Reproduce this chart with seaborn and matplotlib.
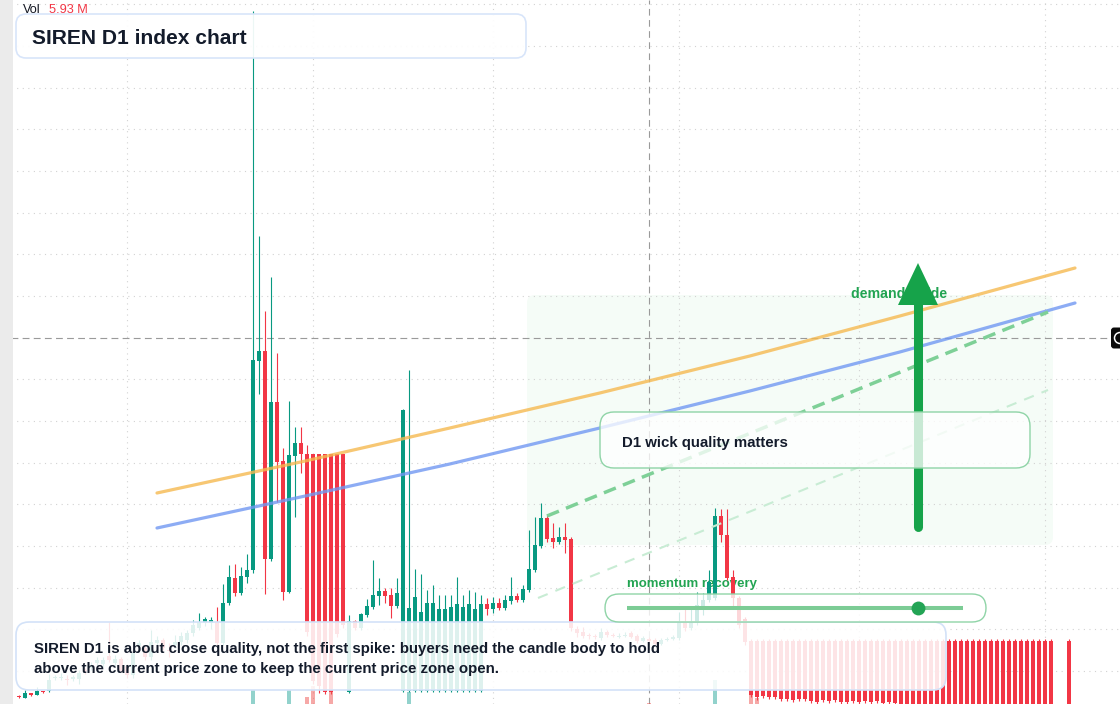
import numpy as np
import pandas as pd
import matplotlib
matplotlib.use("Agg")
import matplotlib.pyplot as plt
import seaborn as sns
from matplotlib.patches import FancyBboxPatch, Rectangle, Polygon, Circle
from matplotlib.colors import to_rgba

nan = float("nan")

# ---------------- data (daily candles, price in USD) ----------------
opens = [
    0.018, 0.016, 0.021, 0.019, 0.023, 0.023, 0.036, 0.036, 0.035, 0.035,
    0.035, 0.044, 0.046, 0.051, 0.050, 0.058, 0.051, 0.055, 0.048, 0.039,
    0.068, 0.066, 0.057, 0.071, 0.074, 0.064, 0.069, 0.072, 0.074, 0.081,
    0.086, 0.091, 0.091, 0.092, 0.071, 0.111, 0.136, 0.121, 0.137, 0.144,
    0.353, 0.363, 0.155, 0.312, 0.253, 0.122, 0.258, 0.271, 0.260, 0.260,
    0.260, 0.260, 0.260, 0.260, 0.260, 0.022, 0.093, 0.086, 0.099, 0.107,
    0.118, 0.123, 0.119, 0.108, 0.023, 0.023, 0.023, 0.023, 0.023, 0.023,
    0.023, 0.023, 0.023, 0.023, 0.023, 0.023, 0.023, 0.023, 0.110, 0.105,
    0.111, 0.106, 0.113, 0.118, 0.114, 0.124, 0.144, 0.168, 0.196, 0.176,
    0.172, 0.177, 0.175, 0.085, 0.082, 0.079, 0.078, 0.076, 0.082, 0.079,
    0.077, 0.078, 0.081, 0.078, 0.073, 0.075, 0.074, 0.070, 0.074, 0.075,
    0.076, 0.091, 0.086, 0.091, 0.107, 0.114, 0.116, 0.198, 0.179, 0.137,
    0.116, 0.095, 0.073, 0.073, 0.073, 0.073, 0.073, 0.073, 0.073, 0.073,
    0.073, 0.073, 0.073, 0.073, 0.073, 0.073, 0.073, 0.073, 0.073, 0.073,
    0.073, 0.073, 0.073, 0.073, 0.073, 0.073, 0.073, 0.073, 0.073, 0.073,
    0.073, 0.073, 0.073, 0.073, 0.073, 0.073, 0.073, 0.073, 0.073, 0.073,
    0.073, 0.073, 0.073, 0.073, 0.073, 0.073, 0.073, 0.073, 0.073, 0.073,
    0.073, 0.073, 0.073, nan, nan, 0.073,
]
highs = [
    0.019, 0.024, 0.021, 0.027, 0.023, 0.040, 0.039, 0.041, 0.039, 0.039,
    0.044, 0.046, 0.052, 0.057, 0.057, 0.092, 0.059, 0.057, 0.050, 0.066,
    0.074, 0.069, 0.084, 0.078, 0.076, 0.071, 0.079, 0.082, 0.084, 0.094,
    0.101, 0.097, 0.097, 0.107, 0.130, 0.149, 0.150, 0.147, 0.160, 0.703,
    0.478, 0.403, 0.437, 0.361, 0.266, 0.313, 0.287, 0.287, 0.269, 0.260,
    0.260, 0.260, 0.260, 0.260, 0.260, 0.099, 0.094, 0.101, 0.115, 0.154,
    0.136, 0.126, 0.126, 0.136, 0.305, 0.344, 0.145, 0.140, 0.124, 0.129,
    0.119, 0.119, 0.119, 0.137, 0.119, 0.124, 0.122, 0.119, 0.116, 0.117,
    0.116, 0.119, 0.137, 0.121, 0.129, 0.184, 0.197, 0.211, 0.199, 0.191,
    0.187, 0.191, 0.177, 0.088, 0.087, 0.081, 0.080, 0.086, 0.084, 0.081,
    0.081, 0.082, 0.083, 0.080, 0.078, 0.077, 0.076, 0.076, 0.077, 0.079,
    0.102, 0.105, 0.106, 0.122, 0.121, 0.144, 0.206, 0.205, 0.205, 0.144,
    0.118, 0.097, 0.075, 0.075, 0.075, 0.075, 0.075, 0.075, 0.075, 0.075,
    0.075, 0.075, 0.075, 0.075, 0.075, 0.075, 0.075, 0.075, 0.075, 0.075,
    0.075, 0.075, 0.075, 0.075, 0.075, 0.075, 0.075, 0.075, 0.075, 0.075,
    0.075, 0.075, 0.075, 0.075, 0.075, 0.075, 0.075, 0.075, 0.075, 0.075,
    0.075, 0.075, 0.075, 0.075, 0.075, 0.075, 0.075, 0.075, 0.075, 0.075,
    0.075, 0.075, 0.075, nan, nan, 0.075,
]
lows = [
    0.016, 0.016, 0.018, 0.019, 0.021, 0.022, 0.034, 0.034, 0.029, 0.033,
    0.030, 0.040, 0.044, 0.048, 0.047, 0.052, 0.048, 0.042, 0.036, 0.036,
    0.064, 0.054, 0.054, 0.068, 0.064, 0.057, 0.066, 0.069, 0.071, 0.078,
    0.084, 0.088, 0.085, 0.069, 0.069, 0.109, 0.118, 0.119, 0.131, 0.141,
    0.320, 0.120, 0.153, 0.212, 0.114, 0.121, 0.197, 0.241, 0.078, 0.030,
    0.021, 0.020, 0.020, 0.077, 0.086, 0.021, 0.084, 0.084, 0.097, 0.105,
    0.109, 0.111, 0.096, 0.106, 0.022, 0.022, 0.022, 0.022, 0.022, 0.022,
    0.022, 0.022, 0.022, 0.022, 0.022, 0.022, 0.022, 0.022, 0.099, 0.101,
    0.104, 0.104, 0.110, 0.112, 0.112, 0.122, 0.142, 0.166, 0.172, 0.166,
    0.170, 0.161, 0.083, 0.077, 0.076, 0.075, 0.075, 0.074, 0.077, 0.077,
    0.076, 0.077, 0.076, 0.071, 0.072, 0.072, 0.069, 0.069, 0.073, 0.074,
    0.074, 0.083, 0.084, 0.089, 0.099, 0.112, 0.114, 0.172, 0.134, 0.106,
    0.086, 0.069, 0.017, 0.014, 0.016, 0.015, 0.015, 0.013, 0.013, 0.012,
    0.013, 0.013, 0.011, 0.010, 0.012, 0.011, 0.012, 0.010, 0.010, 0.011,
    0.010, 0.011, 0.010, 0.011, 0.009, 0.010, 0.009, -0.023, -0.023, -0.023,
    -0.023, -0.023, -0.023, -0.023, -0.023, -0.023, -0.023, -0.023, -0.023, -0.023,
    -0.023, -0.023, -0.023, -0.023, -0.023, -0.023, -0.023, -0.023, -0.023, -0.023,
    -0.023, -0.023, -0.023, nan, nan, -0.023,
]
closes = [
    0.017, 0.021, 0.019, 0.023, 0.022, 0.034, 0.037, 0.037, 0.034, 0.037,
    0.041, 0.043, 0.049, 0.054, 0.054, 0.054, 0.055, 0.043, 0.039, 0.061,
    0.071, 0.057, 0.072, 0.074, 0.066, 0.063, 0.072, 0.078, 0.081, 0.089,
    0.092, 0.095, 0.094, 0.071, 0.111, 0.137, 0.121, 0.138, 0.144, 0.354,
    0.363, 0.155, 0.312, 0.252, 0.122, 0.259, 0.271, 0.260, 0.082, 0.033,
    0.028, 0.022, 0.022, 0.080, 0.089, 0.093, 0.086, 0.100, 0.108, 0.119,
    0.123, 0.118, 0.108, 0.121, 0.304, 0.106, 0.117, 0.102, 0.111, 0.111,
    0.105, 0.105, 0.107, 0.110, 0.107, 0.110, 0.105, 0.110, 0.105, 0.111,
    0.106, 0.114, 0.118, 0.114, 0.125, 0.145, 0.169, 0.196, 0.175, 0.172,
    0.177, 0.174, 0.086, 0.081, 0.078, 0.078, 0.077, 0.082, 0.079, 0.078,
    0.078, 0.079, 0.077, 0.073, 0.076, 0.073, 0.070, 0.074, 0.075, 0.077,
    0.092, 0.086, 0.091, 0.109, 0.114, 0.132, 0.198, 0.179, 0.136, 0.116,
    0.089, 0.072, 0.019, 0.017, 0.018, 0.017, 0.017, 0.015, 0.015, 0.014,
    0.015, 0.015, 0.013, 0.012, 0.014, 0.013, 0.014, 0.012, 0.012, 0.013,
    0.012, 0.013, 0.012, 0.013, 0.011, 0.012, 0.011, -0.020, -0.020, -0.020,
    -0.020, -0.020, -0.020, -0.020, -0.020, -0.020, -0.020, -0.020, -0.020, -0.020,
    -0.020, -0.020, -0.020, -0.020, -0.020, -0.020, -0.020, -0.020, -0.020, -0.020,
    -0.020, -0.020, -0.020, nan, nan, -0.020,
]

# volume (millions) on the candles where it is visible
vol_idx = [39, 45, 48, 49, 52, 65, 105, 116, 122, 123]
vol_val = [140, 140, 70, 180, 120, 120, 5.93, 240, 90, 60]

# moving-average style guides (candle index, price)
ma_x = [23.0, 47.7, 71.8, 96.8, 121.8, 146.8, 176.0]
ma_orange = [0.221, 0.253, 0.286, 0.321, 0.358, 0.398, 0.446]
ma_blue = [0.186, 0.218, 0.250, 0.286, 0.323, 0.362, 0.411]

# trend channel (candle index, price)
trend_x = [88, 171.5]
trend_upper = [0.198, 0.402]
trend_lower_x = [86.5, 171.5]
trend_lower = [0.116, 0.324]

crosshair_idx = 105
crosshair_price = 0.376
grid_idx = [18, 49, 79, 110, 140, 171]

GREEN = "#089981"
RED = "#f23645"
DARK = "#131b2b"
SIGNAL = "#16a34a"

# ---------------- figure ----------------
sns.set_theme(style="white")
plt.rcParams["font.family"] = ["Liberation Sans", "DejaVu Sans"]

W, H = 1120, 704
fig = plt.figure(figsize=(W / 100, H / 100), dpi=100)
ax = fig.add_axes([0, 0, 1, 1])
axo = fig.add_axes([0, 0, 1, 1], zorder=3)
axo.set_xlim(0, W)
axo.set_ylim(H, 0)
axo.axis("off")
PX = axo.transData

# grid
ax.set_axisbelow(True)
ax.set_yticks(0.043 + 0.04167 * np.arange(17))
ax.set_xticks(grid_idx)
ax.grid(True, color="#d2d2d2", lw=0.8, linestyle=(0, (1, 4)))
ax.tick_params(length=0, labelleft=False, labelbottom=False)
for s in ax.spines.values():
    s.set_visible(False)

# demand zone background
ax.add_patch(FancyBboxPatch((527, 295), 526, 250, boxstyle="round,pad=0,rounding_size=8",
                            transform=PX, fc="#f5fcf7", ec="none", zorder=0.3))

# crosshair
ax.axvline(crosshair_idx, color="#9a9a9a", lw=0.8, linestyle=(0, (6, 4)), zorder=1)
ax.axhline(crosshair_price, color="#9a9a9a", lw=0.8, linestyle=(0, (6, 4)), zorder=1)

# labels beneath candles
ax.text(627, 586.5, "momentum recovery", transform=PX, color="#22a452", fontsize=9.5,
        fontweight="bold", va="baseline", ha="left", zorder=1.5)
ax.text(851, 298, "demand guide", transform=PX, color="#22a452", fontsize=10.2,
        fontweight="bold", va="baseline", ha="left", zorder=1.5)

# candles
df = pd.DataFrame({"o": opens, "h": highs, "l": lows, "c": closes})
df["x"] = np.arange(len(df))
df = df.dropna()
up = df["c"] >= df["o"]
cols = np.where(up, GREEN, RED)
ax.vlines(df["x"], df["l"], df["h"], colors=cols, lw=0.8, zorder=2)
body_bottom = np.minimum(df["o"], df["c"])
body_h = np.maximum((df["c"] - df["o"]).abs(), 0.0012)
ax.bar(df["x"], body_h, bottom=body_bottom, width=0.8, color=cols, lw=0, zorder=2.1)

# volume (own scale at the bottom)
axv = ax.twinx()
axv.set_ylim(0, 7040)
axv.axis("off")
axv.patch.set_visible(False)
vcols = [to_rgba("#26a69a", 0.5) if closes[i] >= opens[i] else to_rgba("#ef5350", 0.5)
         for i in vol_idx]
axv.bar(vol_idx, vol_val, width=0.8, color=vcols, lw=0)

# guide lines
sns.lineplot(x=ma_x, y=ma_orange, ax=ax, color="#f5b950", lw=2.3, alpha=0.8,
             zorder=3, sort=False, estimator=None)
sns.lineplot(x=ma_x, y=ma_blue, ax=ax, color="#7198f2", lw=2.3, alpha=0.8,
             zorder=3, sort=False, estimator=None)
ax.plot(trend_x, trend_upper, color="#7ed097", lw=2.5, linestyle=(0, (3.7, 2.2)), zorder=3)
ax.plot(trend_lower_x, trend_lower, color="#c8ecd4", lw=1.5, linestyle=(0, (5, 4)), zorder=3)

# arrow
ax.plot([918, 918], [527, 300], transform=PX, color=SIGNAL, lw=6.5,
        solid_capstyle="round", zorder=3.5)
ax.add_patch(Polygon([(898, 305), (938, 305), (918, 263)], closed=True, transform=PX,
                     fc=SIGNAL, ec="none", zorder=3.5))

ax.set_xlim(-19 / 6, (W - 19) / 6)
ax.set_ylim(0.010, 0.714)
ax.set_xlabel("")
ax.set_ylabel("")
if ax.get_legend():
    ax.get_legend().remove()

# ---------------- overlay boxes & text ----------------
def box(x, y, w, h, r, fc, alpha, ec, lw=1.1):
    p = FancyBboxPatch((x, y), w, h, boxstyle=f"round,pad=0,rounding_size={r}",
                       fc=to_rgba(fc, alpha), ec=ec, lw=lw, zorder=4)
    axo.add_patch(p)

box(16, 14, 510, 44, 10, "white", 0.93, "#d8e5fa", 1.2)
box(16, 622, 930, 68, 13, "white", 0.87, "#d3e2f8", 1.2)
box(600, 412, 430, 56, 14, "white", 0.77, "#8fd4a7", 1.0)
box(605, 594, 381, 28, 14, "white", 0.8, "#8fd4a7", 1.0)

axo.plot([627, 963], [608, 608], color="#7ccc95", lw=2.9, solid_capstyle="butt", zorder=5)
axo.plot([918], [608], marker="o", ms=10, color="#23a455", mec="none", zorder=5.1)

axo.text(32, 43.5, "SIREN D1 index chart", fontsize=15.1, fontweight="bold",
         color=DARK, va="baseline", ha="left", zorder=6)
axo.text(34, 653, "SIREN D1 is about close quality, not the first spike: buyers need the candle body to hold",
         fontsize=10.8, fontweight="bold", color=DARK, va="baseline", ha="left", zorder=6)
axo.text(34, 673, "above the current price zone to keep the current price zone open.",
         fontsize=10.8, fontweight="bold", color=DARK, va="baseline", ha="left", zorder=6)
axo.text(622, 446.5, "D1 wick quality matters", fontsize=10.8, fontweight="bold",
         color=DARK, va="baseline", ha="left", zorder=6)

vol_now = vol_val[vol_idx.index(crosshair_idx)]
axo.text(23, 12.7, "Vol", fontsize=9.2, color="#131722", va="baseline", ha="left", zorder=6)
axo.text(49, 12.7, f"{vol_now:.2f} M", fontsize=9.2, color="#f23645", va="baseline",
         ha="left", zorder=6)

# left scale strip and right crosshair tag
axo.add_patch(Rectangle((0, 0), 12.5, H, fc="#ebebeb", ec="none", zorder=6))
axo.add_patch(FancyBboxPatch((1111, 327.5), 20, 21, boxstyle="round,pad=0,rounding_size=3",
                             fc="#0b0b0b", ec="none", zorder=6))
axo.add_patch(Circle((1120, 338), 5.5, fill=False, ec="white", lw=1.1, zorder=6.1))

fig.savefig("out.png", dpi=100)
